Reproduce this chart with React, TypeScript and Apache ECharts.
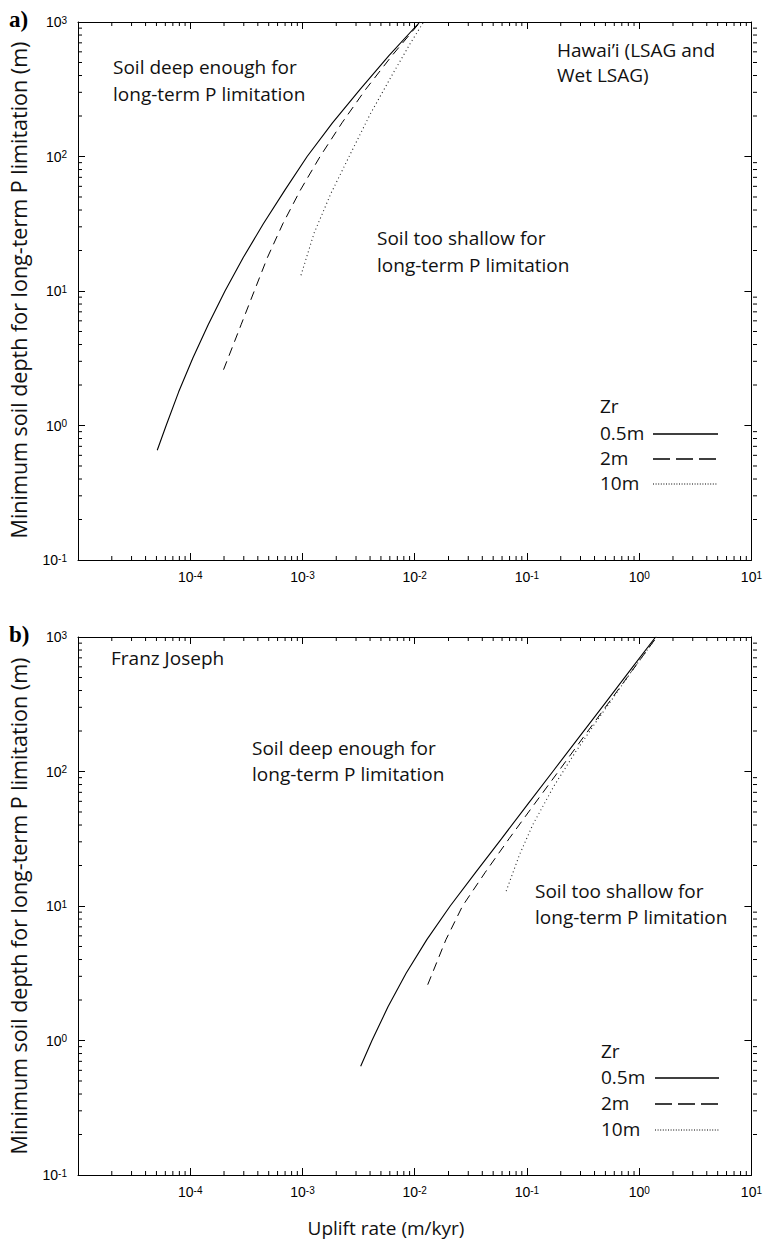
import React, { useEffect, useRef } from 'react';
import * as echarts from 'echarts';

// ---------- data (uplift rate m/kyr, minimum soil depth m) ----------
const zrNames = ['0.5m', '2m', '10m'];

const hawaiiSolid: [number, number][] = [
  [5.08e-5, 0.655], [6.1e-5, 1.0], [7.89e-5, 1.78], [1.053e-4, 3.16], [1.445e-4, 5.62], [2.04e-4, 10],
  [2.975e-4, 17.8], [4.48e-4, 31.6], [6.97e-4, 56.2], [1.1e-3, 100], [1.85e-3, 178], [3.26e-3, 316],
  [5.89e-3, 562], [1.11e-2, 1000],
];
const hawaiiDashed: [number, number][] = [
  [1.98e-4, 2.6], [2.17e-4, 3.16], [2.84e-4, 5.62], [3.72e-4, 10], [4.88e-4, 17.8], [6.68e-4, 31.6],
  [9.57e-4, 56.2], [1.435e-3, 100], [2.25e-3, 178], [3.66e-3, 316], [6.27e-3, 562], [1.12e-2, 1000],
];
const hawaiiDotted: [number, number][] = [
  [9.7e-4, 13.1], [1.27e-3, 27], [1.79e-3, 53], [2.68e-3, 105], [4.03e-3, 208],
  [6.38e-3, 412], [9.1e-3, 690], [1.2e-2, 1000],
];

const franzSolid: [number, number][] = [
  [3.3e-3, 0.643], [4.16e-3, 1.0], [5.78e-3, 1.78], [8.38e-3, 3.16], [1.282e-2, 5.62], [2.07e-2, 10],
  [3.49e-2, 17.8], [5.92e-2, 31.6], [0.1002, 56.2], [0.17, 100], [0.288, 178], [0.488, 316],
  [0.826, 562], [1.4, 1000],
];
const franzDashed: [number, number][] = [
  [1.306e-2, 2.6], [1.897e-2, 5.62], [2.667e-2, 10], [4.25e-2, 17.8], [6.92e-2, 31.6], [0.1146, 56.2],
  [0.1905, 100], [0.3155, 178], [0.5224, 316], [0.865, 562], [1.432, 1000],
];
const franzDotted: [number, number][] = [
  [6.53e-2, 12.9], [8.57e-2, 24], [0.1127, 40.2], [0.1734, 77.6], [0.2667, 137],
  [0.4074, 230], [0.598, 362], [0.877, 571], [1.432, 1000],
];

const xMin = 1e-5;
const xMax = 10;
const yMin = 0.1;
const yMax = 1000;

// ---------- layout ----------
const TXT_FONT = '"Open Sans", "Noto Sans", sans-serif';
const TICK_FONT = '"Liberation Sans", Arial, sans-serif';
const GRIDS = [
  { left: 78, top: 22, width: 679, height: 538 },
  { left: 78, top: 637, width: 679, height: 538 },
];

function expOf(v: number) {
  return Math.round(Math.log10(v));
}
function supLabel(v: number, hideMin: boolean) {
  const e = expOf(v);
  if (hideMin && e === -5) return '';
  return `{b|10}{s|${e}}`;
}
const richTicks = {
  b: { fontSize: 14, fontFamily: TICK_FONT, color: '#000', lineHeight: 14, padding: [4, 0, 4, 0] },
  s: { fontSize: 10, fontFamily: TICK_FONT, color: '#000', lineHeight: 10, verticalAlign: 'top' },
};

function makeX(gridIndex: number, position: 'bottom' | 'top', labels: boolean) {
  return {
    type: 'log', logBase: 10, min: xMin, max: xMax, gridIndex, position,
    axisLine: { show: true, lineStyle: { color: '#000', width: 1 } },
    axisTick: { show: true, inside: true, length: 7, lineStyle: { color: '#000', width: 1 } },
    splitLine: { show: false },
    minorTick: { show: false },
    axisLabel: labels
      ? { show: true, margin: 10, formatter: (v: number) => supLabel(v, true), rich: richTicks, showMinLabel: true, showMaxLabel: true }
      : { show: false },
  };
}
function makeY(gridIndex: number, position: 'left' | 'right', labels: boolean) {
  return {
    type: 'log', logBase: 10, min: yMin, max: yMax, gridIndex, position,
    axisLine: { show: true, lineStyle: { color: '#000', width: 1 } },
    axisTick: { show: true, inside: true, length: 7, lineStyle: { color: '#000', width: 1 } },
    splitLine: { show: false },
    axisLabel: labels
      ? { show: true, margin: 11, formatter: (v: number) => supLabel(v, false), rich: richTicks, showMinLabel: true, showMaxLabel: true }
      : { show: false },
  };
}

// minor tick positions (axis decoration: 2..9 x 10^n)
function minorTicks(lo: number, hi: number) {
  const out: number[] = [];
  for (let e = Math.round(Math.log10(lo)); e < Math.round(Math.log10(hi)); e++) {
    for (let m = 2; m <= 9; m++) out.push(m * Math.pow(10, e));
  }
  return out;
}

const styles = [
  { color: '#000', width: 1.1, type: 'solid' as any },
  { color: '#000', width: 1, type: [9, 6] as any },
  { color: '#222', width: 1.1, type: [1, 3] as any },
];

function lineSeries(idx: number, name: string, data: [number, number][], s: number) {
  return {
    type: 'line', name, xAxisIndex: idx * 2, yAxisIndex: idx * 2, data,
    showSymbol: false, symbol: 'none', smooth: false, clip: false,
    lineStyle: { color: styles[s].color, width: styles[s].width, type: styles[s].type },
  };
}

function txt(x: number, y: number, text: string, extra: any = {}) {
  return {
    type: 'text', x, y, silent: true,
    style: { text, fontSize: 19, fontFamily: TXT_FONT, fill: '#111', align: 'left', verticalAlign: 'middle', ...extra },
  };
}

function legend(x: number, lx1: number, lx2: number, ys: number[]) {
  const els: any[] = [txt(x, ys[0], 'Zr')];
  const dashes = [undefined, [17, 6], [1, 1.6]];
  zrNames.forEach((n, i) => {
    els.push(txt(x, ys[i + 1], n));
    els.push({
      type: 'line', silent: true,
      shape: { x1: lx1, y1: ys[i + 1] + 1, x2: lx2, y2: ys[i + 1] + 1 },
      style: { stroke: '#000', lineWidth: i === 2 ? 1 : 1.4, lineDash: dashes[i] },
    });
  });
  return els;
}

export default function App() {
  const ref = useRef<HTMLDivElement>(null);
  useEffect(() => {
    const chart = echarts.init(ref.current!, null, { renderer: 'svg' });
    const yTitle = 'Minimum soil depth for long-term P limitation (m)';
    const graphics: any[] = [
      // panel labels
      txt(9, 19, 'a)', { fontFamily: '"Liberation Serif", "DejaVu Serif", serif', fontWeight: 'bold', fontSize: 23, fill: '#000' }),
      txt(9, 634, 'b)', { fontFamily: '"Liberation Serif", "DejaVu Serif", serif', fontWeight: 'bold', fontSize: 23, fill: '#000' }),
      // y titles
      {
        type: 'text', x: 18, y: 290, rotation: Math.PI / 2, silent: true,
        style: { text: yTitle, fontSize: 21.5, fontFamily: TXT_FONT, fill: '#111', align: 'center', verticalAlign: 'middle' },
      },
      {
        type: 'text', x: 18, y: 906, rotation: Math.PI / 2, silent: true,
        style: { text: yTitle, fontSize: 21.5, fontFamily: TXT_FONT, fill: '#111', align: 'center', verticalAlign: 'middle' },
      },
      // x title
      {
        type: 'text', x: 386, y: 1228, silent: true,
        style: { text: 'Uplift rate (m/kyr)', fontSize: 19, fontFamily: TXT_FONT, fill: '#111', align: 'center', verticalAlign: 'middle' },
      },
      // panel a annotations
      txt(113, 67, 'Soil deep enough for'),
      txt(113, 94, 'long-term P limitation'),
      txt(557, 50, 'Hawai\u2019i (LSAG and'),
      txt(557, 75, 'Wet LSAG)'),
      txt(377, 238, 'Soil too shallow for'),
      txt(377, 265, 'long-term P limitation'),
      ...legend(600, 653, 718, [406, 433, 458, 483]),
      // panel b annotations
      txt(111, 658, 'Franz Joseph'),
      txt(252, 748, 'Soil deep enough for'),
      txt(252, 774, 'long-term P limitation'),
      txt(535, 891, 'Soil too shallow for'),
      txt(535, 917, 'long-term P limitation'),
      ...legend(601, 655, 719, [1051, 1077, 1103, 1129]),
    ];

    chart.setOption({
      animation: false,
      backgroundColor: '#fff',
      grid: GRIDS.map((g) => ({ ...g, containLabel: false })),
      xAxis: [makeX(0, 'bottom', true), makeX(0, 'top', false), makeX(1, 'bottom', true), makeX(1, 'top', false)],
      yAxis: [makeY(0, 'left', true), makeY(0, 'right', false), makeY(1, 'left', true), makeY(1, 'right', false)],
      series: [
        lineSeries(0, zrNames[0], hawaiiSolid, 0),
        lineSeries(0, zrNames[1], hawaiiDashed, 1),
        lineSeries(0, zrNames[2], hawaiiDotted, 2),
        lineSeries(1, zrNames[0], franzSolid, 0),
        lineSeries(1, zrNames[1], franzDashed, 1),
        lineSeries(1, zrNames[2], franzDotted, 2),
      ],
    });

    // minor ticks positioned through the axes' own scales
    const tickEls: any[] = [];
    const L = 4;
    const st = { stroke: '#000', lineWidth: 1 };
    GRIDS.forEach((g, idx) => {
      const bottom = g.top + g.height;
      const right = g.left + g.width;
      minorTicks(xMin, xMax).forEach((v) => {
        const px = chart.convertToPixel({ xAxisIndex: idx * 2 } as any, v) as unknown as number;
        if (typeof px !== 'number' || isNaN(px)) return;
        tickEls.push({ type: 'line', silent: true, shape: { x1: px, y1: bottom, x2: px, y2: bottom - L }, style: st });
        tickEls.push({ type: 'line', silent: true, shape: { x1: px, y1: g.top, x2: px, y2: g.top + L }, style: st });
      });
      minorTicks(yMin, yMax).forEach((v) => {
        const py = chart.convertToPixel({ yAxisIndex: idx * 2 } as any, v) as unknown as number;
        if (typeof py !== 'number' || isNaN(py)) return;
        tickEls.push({ type: 'line', silent: true, shape: { x1: g.left, y1: py, x2: g.left + L, y2: py }, style: st });
        tickEls.push({ type: 'line', silent: true, shape: { x1: right, y1: py, x2: right - L, y2: py }, style: st });
      });
    });

    chart.setOption({ graphic: { elements: [...graphics, ...tickEls] } });
    return () => chart.dispose();
  }, []);
  return (
    <div
      ref={ref}
      style={{ position: 'absolute', left: 0, top: 0, width: 765, height: 1240, background: '#fff' }}
    />
  );
}
